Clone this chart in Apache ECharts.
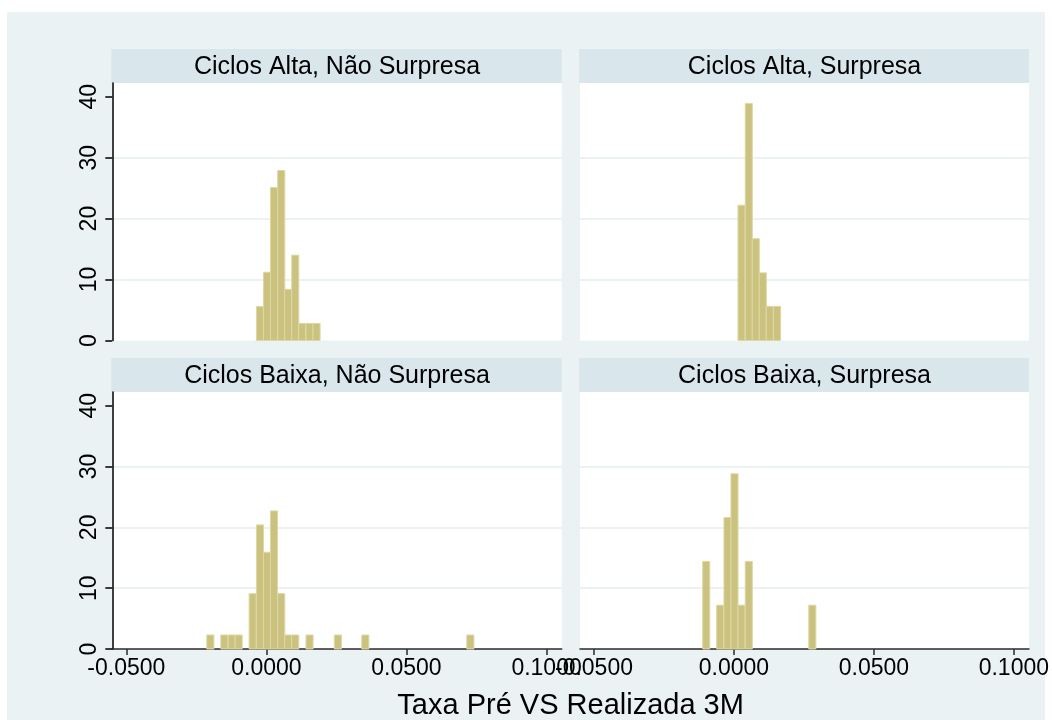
<!DOCTYPE html>
<html>
<head>
<meta charset="utf-8">
<script src="https://cdn.jsdelivr.net/npm/echarts@6/dist/echarts.min.js"></script>
<style>
  html, body { margin: 0; padding: 0; background: #ffffff; }
  #chart { width: 1052px; height: 720px; }
</style>
</head>
<body>
<div id="chart"></div>
<script>
// Histogram densities of the 3M pre-rate vs realized spread, by cycle and surprise
const panelTitles = [
  'Ciclos Alta, Não Surpresa',
  'Ciclos Alta, Surpresa',
  'Ciclos Baixa, Não Surpresa',
  'Ciclos Baixa, Surpresa'
];
const xTitle = 'Taxa Pré VS Realizada 3M';

// bin width shared by all panels
const binWidth = 0.00253;

// bin centers and densities, one pair of arrays per panel
const altaNaoX = [-0.0023, 0.0002, 0.0027, 0.0053, 0.0078, 0.0103, 0.0128, 0.0154, 0.0179];
const altaNaoY = [5.6, 11.2, 25.1, 27.9, 8.4, 14.0, 2.8, 2.8, 2.8];

const altaSimX = [0.0027, 0.0053, 0.0078, 0.0103, 0.0128, 0.0154];
const altaSimY = [22.2, 38.9, 16.7, 11.1, 5.6, 5.6];

const baixaNaoX = [-0.0200, -0.0150, -0.0124, -0.0099, -0.0049, -0.0023, 0.0002, 0.0027, 0.0053, 0.0078, 0.0103, 0.0154, 0.0255, 0.0353, 0.0728];
const baixaNaoY = [2.3, 2.3, 2.3, 2.3, 9.1, 20.4, 15.9, 22.7, 9.1, 2.3, 2.3, 2.3, 2.3, 2.3, 2.3];

const baixaSimX = [-0.0099, -0.0049, -0.0023, 0.0002, 0.0027, 0.0053, 0.0280];
const baixaSimY = [14.4, 7.2, 21.6, 28.8, 7.2, 14.4, 7.2];

// axis ticks
const xTicks = [-0.05, 0, 0.05, 0.1];
const yTicks = [0, 10, 20, 30, 40];
const xRange = [-0.055, 0.1054];
const yRange = [0, 42.25];

const panelX = [altaNaoX, altaSimX, baixaNaoX, baixaSimX];
const panelY = [altaNaoY, altaSimY, baixaNaoY, baixaSimY];

const BG = '#EAF2F3';
const STRIP = '#D9E6EB';
const BAR_FILL = '#CAC27E';
const BAR_EDGE = '#DDD8A4';
const FONT = '"Liberation Sans", Arial, sans-serif';

// plot regions: [left, top, width, height]
const boxes = [
  [112.3, 83, 449.4, 257.5],
  [580, 83, 449, 257.5],
  [112.3, 392, 449.4, 257],
  [580, 392, 449, 257]
];
const stripH = 34;

const grids = [], xAxes = [], yAxes = [], series = [], graphics = [];

graphics.push({
  type: 'rect', z: -10,
  shape: { x: 7, y: 12, width: 1038, height: 708 },
  style: { fill: BG }
});

boxes.forEach((b, i) => {
  const bottomRow = i >= 2;
  const leftCol = i % 2 === 0;
  grids.push({
    left: b[0], top: b[1], width: b[2], height: b[3],
    show: true, backgroundColor: '#ffffff', borderWidth: 0
  });
  xAxes.push({
    type: 'value', gridIndex: i, min: xRange[0], max: xRange[1],
    axisLine: { show: bottomRow, onZero: false, lineStyle: { color: '#2b2b2b', width: 1.5 } },
    axisTick: { show: bottomRow, customValues: xTicks, length: 6, lineStyle: { color: '#2b2b2b', width: 1.5 } },
    axisLabel: {
      show: bottomRow, customValues: xTicks, margin: 8,
      formatter: v => v.toFixed(4),
      color: '#000', fontSize: 23, fontFamily: FONT
    },
    splitLine: { show: false }
  });
  yAxes.push({
    type: 'value', gridIndex: i, min: yRange[0], max: yRange[1], interval: 10,
    axisLine: { show: leftCol, onZero: false, lineStyle: { color: '#000', width: 1.5 } },
    axisTick: { show: leftCol, customValues: yTicks, length: 7, lineStyle: { color: '#000', width: 1.5 } },
    axisLabel: {
      show: leftCol, customValues: yTicks, rotate: 90, margin: 11,
      color: '#000', fontSize: 23, fontFamily: FONT
    },
    splitLine: {
      show: true, showMinLine: false, showMaxLine: false,
      lineStyle: { color: BG, width: 2 }
    }
  });
  series.push({
    type: 'custom',
    xAxisIndex: i, yAxisIndex: i,
    data: panelX[i].map((x, k) => [x, panelY[i][k]]),
    encode: { x: 0, y: 1 },
    renderItem: (params, api) => {
      const c = api.value(0), h = api.value(1);
      const p0 = api.coord([c - binWidth / 2, h]);
      const p1 = api.coord([c + binWidth / 2, 0]);
      return {
        type: 'rect',
        shape: { x: p0[0], y: p0[1], width: p1[0] - p0[0], height: p1[1] - p0[1] },
        style: { fill: BAR_FILL, stroke: BAR_EDGE, lineWidth: 1 }
      };
    }
  });
  // panel header strip
  graphics.push({
    type: 'rect',
    shape: { x: b[0] - 1, y: b[1] - stripH, width: b[2] + 1, height: stripH },
    style: { fill: STRIP }
  });
  graphics.push({
    type: 'text',
    x: b[0] + b[2] / 2, y: b[1] - stripH / 2 + 1,
    style: {
      text: panelTitles[i], fill: '#000', fontSize: 25, fontFamily: FONT,
      align: 'center', verticalAlign: 'middle'
    }
  });
});

graphics.push({
  type: 'text',
  x: 570.6, y: 706,
  style: {
    text: xTitle, fill: '#000', fontSize: 29, fontFamily: FONT,
    align: 'center', verticalAlign: 'middle'
  }
});

const chart = echarts.init(document.getElementById('chart'), null, { renderer: 'canvas' });
chart.setOption({
  backgroundColor: '#ffffff',
  animation: false,
  grid: grids,
  xAxis: xAxes,
  yAxis: yAxes,
  series: series,
  graphic: { elements: graphics }
});
</script>
</body>
</html>
